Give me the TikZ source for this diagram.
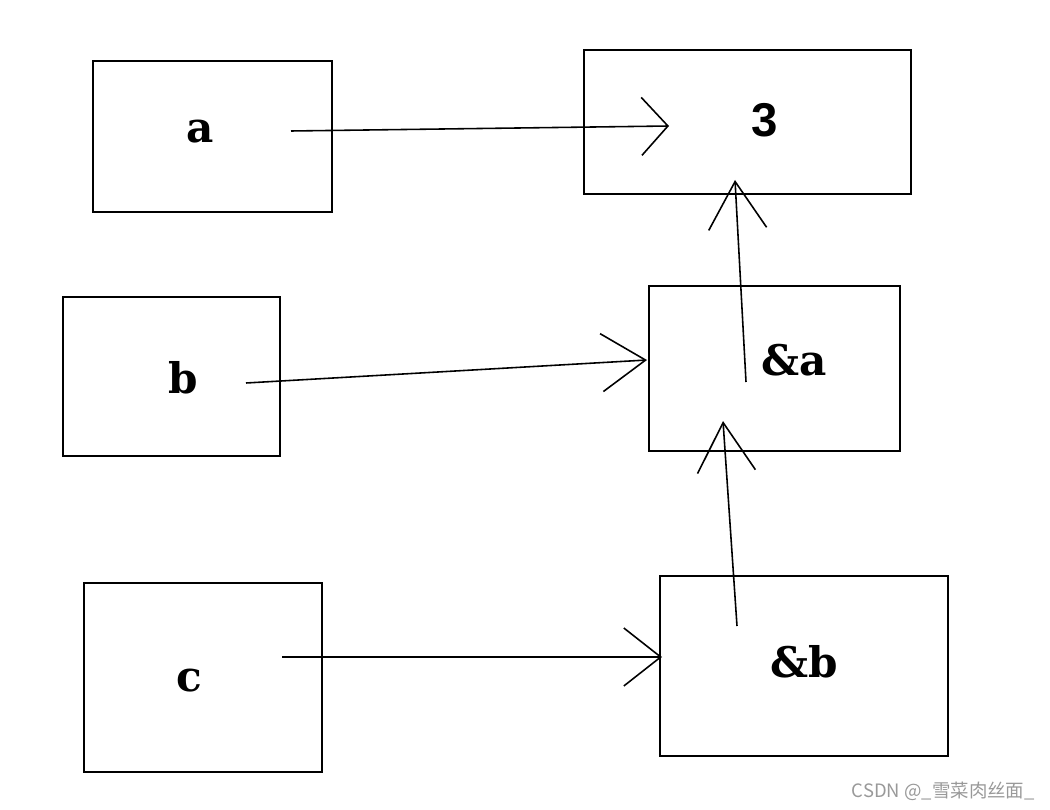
\documentclass[tikz,border=0pt]{standalone}
\usepackage{fontspec}
\newfontfamily\slabfont{DejaVu Serif}
\newfontfamily\digitfont{Liberation Sans}
\newfontfamily\cjkfont{Noto Sans CJK SC}
\usetikzlibrary{arrows.meta}
\tikzset{
  box/.style={draw, line width=1.1pt, inner sep=0pt},
  word/.style={font=\slabfont\bfseries\fontsize{24}{28}\selectfont, inner sep=0pt},
  ptr/.style={line width=0.9pt, -{Straight Barb[length=#1, width=33pt, line width=0.9pt]}},
  ptr/.default=23pt
}

\begin{document}
\begin{tikzpicture}[x=0.02cm, y=-0.02cm]
            \useasboundingbox (0,0) rectangle (1050,810);
            % boxes
            \node[box, minimum width=4.78cm, minimum height=3.02cm] (a) at (212.5,136.5){};
            \node[box, minimum width=6.54cm, minimum height=2.88cm] (three) at (747.5,122){};
            \node[box, minimum width=4.34cm, minimum height=3.18cm] (b) at (171.5,376.5){};
            \node[box, minimum width=5.02cm, minimum height=3.30cm] (refa) at (774.5,368.5){};
            \node[box, minimum width=4.76cm, minimum height=3.78cm] (c) at (203,677.5){};
            \node[box, minimum width=5.76cm, minimum height=3.60cm] (refb) at (804,666){};
            % labels
            \node[word] (a-txt) at (200,132){a};
            \node[word, font=\digitfont\bfseries\fontsize{27}{30}\selectfont] (three-txt) at (765,120){3};
            \node[word] (b-txt) at (183,378){b};
            \node[word] (refa-txt) at (794,360){\&a};
            \node[word] (c-txt) at (189,681){c};
            \node[word] (refb-txt) at (804,662){\&b};
            % pointer ends
            \coordinate (a-tail) at (291,131);
            \coordinate (three-tip) at (669,126);
            \coordinate (b-tail) at (246,383);
            \coordinate (refa-tip) at (647,360);
            \coordinate (c-tail) at (282,657);
            \coordinate (refb-tip) at (662,657);
            \coordinate (refa-tail) at (746,382);
            \coordinate (three-bot) at (735,180);
            \coordinate (refb-tail) at (737,626);
            \coordinate (refa-bot) at (723,421);
            \draw[ptr=15pt] (a-tail) -- (three-tip);
            \draw[ptr=25pt] (b-tail) -- (refa-tip);
            \draw[ptr=21pt] (c-tail) -- (refb-tip);
            \draw[ptr=27pt] (refa-tail) -- (three-bot);
            \draw[ptr=28pt] (refb-tail) -- (refa-bot);
            % watermark
            \node[anchor=east, text=black!40, inner sep=0pt, font=\cjkfont\fontsize{10.5}{12}\selectfont] (mark) at (1035,791){CSDN @\_雪菜肉丝面\_};
        \end{tikzpicture}
\end{document}
